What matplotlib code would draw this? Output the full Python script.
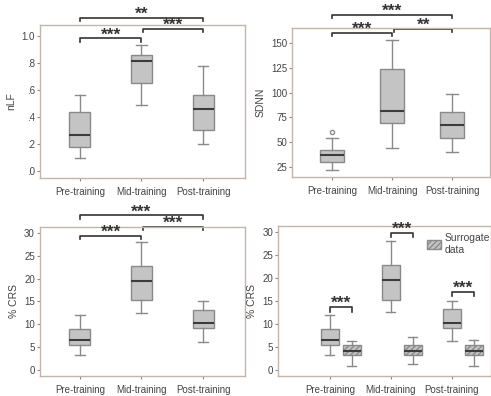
import matplotlib
matplotlib.use("Agg")
import matplotlib.pyplot as plt
from matplotlib.patches import Patch

plt.rcParams['font.family'] = ['Liberation Sans', 'DejaVu Sans']

categories = ["Pre-training", "Mid-training", "Post-training"]

# box stats: (whislo, q1, med, q3, whishi)
nlf_stats = [(0.10, 0.18, 0.27, 0.44, 0.56),
             (0.49, 0.65, 0.81, 0.86, 0.93),
             (0.20, 0.30, 0.46, 0.56, 0.78)]
sdnn_stats = [(22, 30, 37, 42, 54),
              (44, 69, 82, 124, 153),
              (40, 54, 67, 80, 99)]
sdnn_outliers = [[60], [], []]
crs_stats = [(3.2, 5.5, 6.5, 9.0, 12.0),
             (12.5, 15.3, 19.5, 22.8, 28.0),
             (6.2, 9.2, 10.3, 13.2, 15.0)]
surr_stats = [(0.8, 3.3, 4.2, 5.3, 6.3),
              (1.2, 3.3, 4.2, 5.4, 7.2),
              (0.8, 3.2, 4.0, 5.3, 6.4)]

nlf_ticks = [0.0, 0.2, 0.4, 0.6, 0.8, 1.0]
nlf_ticklabels = [".0", ".2", ".4", ".6", ".8", "1.0"]
sdnn_ticks = [25, 50, 75, 100, 125, 150]
crs_ticks = [0, 5, 10, 15, 20, 25, 30]

FACE = "#c4c4c4"
EDGE = "#8a8a8a"
MED = "#3c3c3c"
FRAME = "#c2b6aa"
TXT = "#444444"
BR = "#333333"

fig = plt.figure(figsize=(4.91, 3.96), dpi=100)


def mkstats(stats, outliers=None):
    out = []
    for i, s in enumerate(stats):
        d = dict(whislo=s[0], q1=s[1], med=s[2], q3=s[3], whishi=s[4],
                 fliers=(outliers[i] if outliers else []))
        out.append(d)
    return out


def draw(ax, stats, positions, width, hatch=None, outliers=None):
    bp = ax.bxp(mkstats(stats, outliers), positions=positions, widths=width,
                patch_artist=True, showfliers=True,
                boxprops=dict(facecolor=FACE, edgecolor=EDGE, linewidth=1.0),
                medianprops=dict(color=MED, linewidth=1.5),
                whiskerprops=dict(color=EDGE, linewidth=1.0),
                capprops=dict(color=EDGE, linewidth=1.0),
                capwidths=width * 0.5,
                flierprops=dict(marker='o', markersize=3, markerfacecolor='none',
                                markeredgecolor=EDGE))
    if hatch:
        for b in bp['boxes']:
            b.set_hatch(hatch)
    return bp


def style(ax, ylabel, xlim, ylim, yticks, yticklabels=None, xticks=(1, 2, 3)):
    ax.set_xlim(*xlim)
    ax.set_ylim(*ylim)
    ax.set_yticks(yticks)
    if yticklabels is not None:
        ax.set_yticklabels(yticklabels)
    ax.set_xticks(list(xticks))
    ax.set_xticklabels(categories)
    for sp in ax.spines.values():
        sp.set_color(FRAME)
        sp.set_linewidth(1.0)
    ax.tick_params(axis='both', colors=TXT, labelsize=7, length=2.5, width=0.8)
    ax.tick_params(axis='both', color=EDGE)
    ax.tick_params(axis='x', pad=4)
    ax.tick_params(axis='y', pad=1)
    ax.set_ylabel(ylabel, color=TXT, fontsize=7.5, labelpad=4)


def bracket(ax, x1, x2, y, h, label):
    ax.plot([x1, x1, x2, x2], [y - h, y, y, y - h], color=BR, lw=1.2,
            clip_on=False)
    ax.annotate(label, xy=((x1 + x2) / 2, y), xytext=(0, -0.6),
                textcoords='offset points', ha='center', va='baseline',
                color=BR, fontsize=12.5, fontweight='bold',
                annotation_clip=False)


pos = [1, 2, 3]

# Panel 1: nLF
ax1 = fig.add_axes([0.081, 0.551, 0.418, 0.386])
draw(ax1, nlf_stats, pos, 0.34)
style(ax1, "nLF", (0.35, 3.68), (-0.05, 1.08), nlf_ticks, nlf_ticklabels)
bracket(ax1, 1, 2, 0.98, 0.025, "***")
bracket(ax1, 2.03, 3, 1.05, 0.025, "***")
bracket(ax1, 1, 3, 1.135, 0.025, "**")

# Panel 2: SDNN
ax2 = fig.add_axes([0.595, 0.553, 0.403, 0.376])
draw(ax2, sdnn_stats, pos, 0.4, outliers=sdnn_outliers)
style(ax2, "SDNN", (0.33, 3.63), (15, 165), sdnn_ticks)
bracket(ax2, 1, 2, 160, 3, "***")
bracket(ax2, 2.03, 3, 164.5, 3, "**")
bracket(ax2, 1, 3, 178, 3, "***")

# Panel 3: %CRS
ax3 = fig.add_axes([0.081, 0.051, 0.418, 0.376])
draw(ax3, crs_stats, pos, 0.34)
style(ax3, "% CRS", (0.35, 3.68), (-1.3, 31.3), crs_ticks)
bracket(ax3, 1, 2, 29.3, 0.7, "***")
bracket(ax3, 2.03, 3, 31.3, 0.7, "***")
bracket(ax3, 1, 3, 33.8, 0.7, "***")

# Panel 4: %CRS vs surrogate
off = 0.36
ax4 = fig.add_axes([0.566, 0.051, 0.434, 0.378])
draw(ax4, crs_stats, pos, 0.3)
draw(ax4, surr_stats, [p + off for p in pos], 0.3, hatch='//////')
style(ax4, "% CRS", (0.15, 3.64), (-1.3, 31.3), crs_ticks)
bracket(ax4, 1, 1 + off, 13.6, 0.9, "***")
bracket(ax4, 2, 2 + off, 29.8, 0.9, "***")
bracket(ax4, 3, 3 + off, 16.9, 0.9, "***")
leg = ax4.legend(handles=[Patch(facecolor=FACE, edgecolor=EDGE, hatch='//////',
                                label="Surrogate\ndata")],
                 loc='upper right', bbox_to_anchor=(1.03, 1.0), frameon=False,
                 fontsize=7.5, handlelength=1.4, handleheight=1.0,
                 handletextpad=0.3, labelcolor=TXT, borderaxespad=0.3)

fig.savefig("out.png", dpi=100)
